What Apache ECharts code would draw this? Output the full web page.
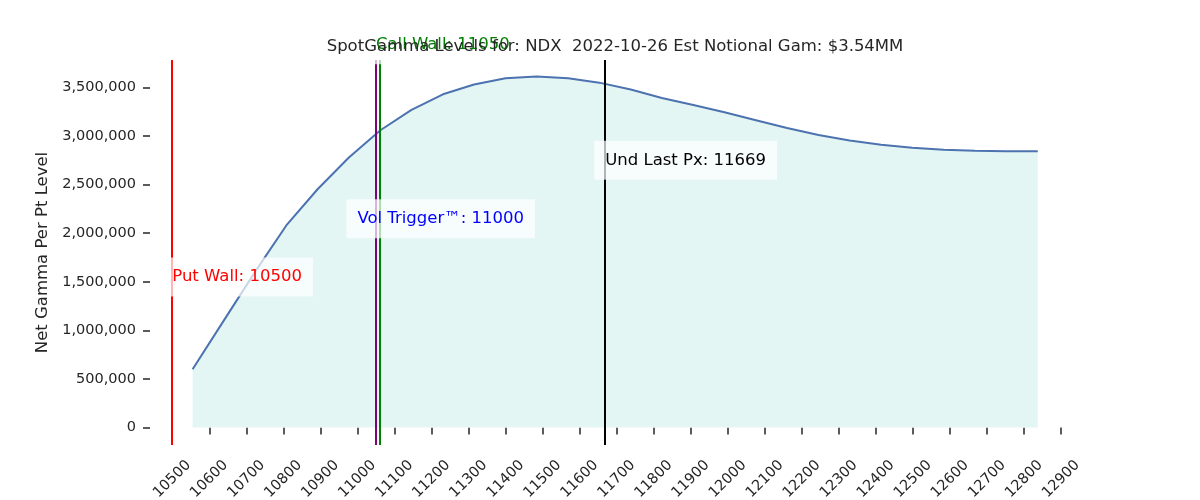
<!DOCTYPE html>
<html>
<head>
<meta charset="utf-8">
<script src="https://cdn.jsdelivr.net/npm/echarts@6/dist/echarts.min.js"></script>
<style>
  html, body { margin: 0; padding: 0; background: #fff; }
  #chart { width: 1200px; height: 500px; }
</style>
</head>
<body>
<div id="chart"></div>
<script>
const strikes = [10555, 10640, 10724, 10808, 10893, 10977, 11062, 11146, 11231, 11315, 11400, 11484, 11569, 11653,
  11738, 11822, 11907, 11991, 12076, 12160, 12245, 12329, 12414, 12498, 12583, 12667, 12752, 12837]
const netGamma = [600000, 1105000, 1605000, 2080000, 2455000, 2780000, 3060000, 3270000, 3430000, 3530000, 3595000,
  3612000, 3595000, 3550000, 3480000, 3392000, 3320000, 3245000, 3163000, 3083000, 3011000, 2954000, 2911000,
  2879000, 2859000, 2848000, 2845000, 2845000]

const xTicks = [10500, 10600, 10700, 10800, 10900, 11000, 11100, 11200, 11300, 11400, 11500, 11600, 11700,
  11800, 11900, 12000, 12100, 12200, 12300, 12400, 12500, 12600, 12700, 12800, 12900]
const yTicks = [0, 500000, 1000000, 1500000, 2000000, 2500000, 3000000, 3500000]

const levelNames = ['Put Wall', 'Vol Trigger™', 'Call Wall', 'Und Last Px']
const levelValues = [10500, 11000, 11050, 11669]
const levelLineX = [10500, 11050, 11060, 11669]
const lineColors = ['#ff0000', '#800080', '#008000', '#000000']
const labelColors = ['#ff0000', '#0000ff', '#008000', '#000000']
const labelHeights = [1550000, 2150000, 3940000, 2750000]

const titleText = 'SpotGamma Levels for: NDX  2022-10-26 Est Notional Gam: $3.54MM'

const font = '"DejaVu Sans", sans-serif'
const ink = '#262626'

const chart = echarts.init(document.getElementById('chart'))

const option = {
  animation: false,
  backgroundColor: '#fff',
  grid: { left: 150, right: 120, top: 60, bottom: 55, containLabel: false, outerBoundsMode: 'none' },
  xAxis: {
    type: 'value',
    min: 10440,
    max: 12951,
    axisLine: { show: false },
    splitLine: { show: false },
    axisTick: { show: true, customValues: xTicks, length: 7, lineStyle: { color: ink, width: 1.5 } },
    axisLabel: {
      customValues: xTicks,
      rotate: 45,
      align: 'center',
      verticalAlign: 'middle',
      margin: 34,
      fontSize: 14.5,
      fontFamily: font,
      color: ink,
      formatter: v => String(v)
    }
  },
  yAxis: {
    type: 'value',
    min: -180000,
    max: 3783000,
    name: 'Net Gamma Per Pt Level',
    nameLocation: 'middle',
    nameRotate: 90,
    nameGap: 98,
    nameTextStyle: { fontSize: 16.5, fontFamily: font, color: ink },
    axisLine: { show: false },
    splitLine: { show: false },
    axisTick: { show: true, customValues: yTicks, length: 7, lineStyle: { color: ink, width: 1.5 } },
    axisLabel: {
      customValues: yTicks,
      margin: 14,
      fontSize: 14.5,
      fontFamily: font,
      color: ink,
      formatter: v => v.toLocaleString('en-US')
    }
  },
  series: [
    {
      type: 'line',
      data: strikes.map((s, i) => [s, netGamma[i]]),
      showSymbol: false,
      lineStyle: { color: '#4c72b0', width: 2 },
      areaStyle: { color: '#e4f6f4', opacity: 1 },
      markLine: {
        silent: true,
        symbol: 'none',
        label: { show: false },
        data: levelLineX.map((x, i) => ({
          xAxis: x,
          lineStyle: { color: lineColors[i], width: 2, type: 'solid' }
        }))
      }
    }
  ]
}

chart.setOption(option)

function drawText () {
  const labels = levelNames.map((name, i) => {
    const pos = chart.convertToPixel({ gridIndex: 0 }, [levelValues[i], labelHeights[i]])
    return {
      type: 'text',
      x: pos[0] - 11,
      y: pos[1],
      z: 100,
      style: {
        text: name + ': ' + levelValues[i],
        fill: labelColors[i],
        fontSize: 16.5,
        fontFamily: font,
        align: 'left',
        verticalAlign: 'middle',
        backgroundColor: 'rgba(255,255,255,0.7)',
        padding: [11, 11, 11, 11]
      }
    }
  })

  labels.push({
    type: 'text',
    x: 615,
    y: 47,
    z: 110,
    style: {
      text: titleText,
      fill: ink,
      fontSize: 16.5,
      fontFamily: font,
      align: 'center',
      verticalAlign: 'middle'
    }
  })

  chart.setOption({ graphic: labels })
}

drawText()
</script>
</body>
</html>
